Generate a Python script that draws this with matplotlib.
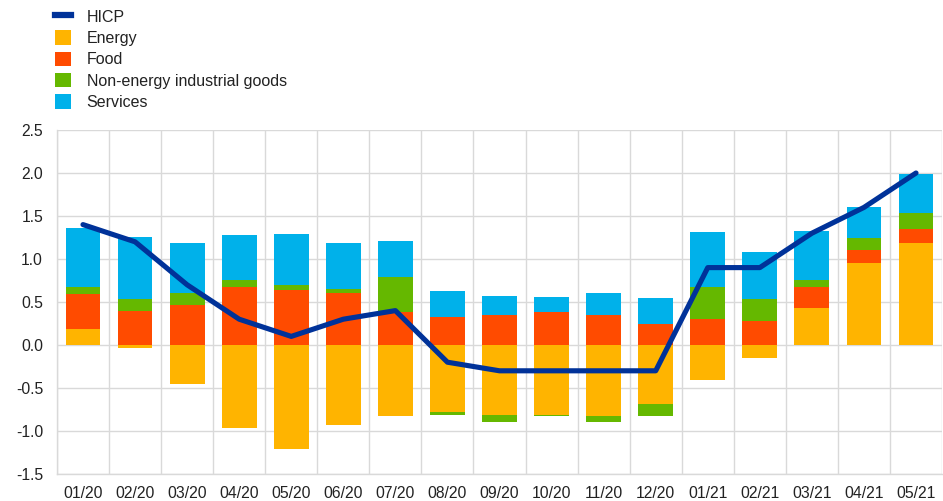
import numpy as np
import matplotlib
matplotlib.use("Agg")
import matplotlib.pyplot as plt
from matplotlib.patches import Patch
from matplotlib.lines import Line2D

plt.rcParams['font.family'] = ['Liberation Sans', 'DejaVu Sans']

months = ["01/20", "02/20", "03/20", "04/20", "05/20", "06/20", "07/20", "08/20", "09/20",
          "10/20", "11/20", "12/20", "01/21", "02/21", "03/21", "04/21", "05/21"]
hicp = [1.4, 1.2, 0.7, 0.3, 0.1, 0.3, 0.4, -0.2, -0.3, -0.3, -0.3, -0.3, 0.9, 0.9, 1.3, 1.6, 2.0]
energy = [0.19, -0.04, -0.45, -0.97, -1.21, -0.93, -0.83, -0.78, -0.81, -0.81, -0.83, -0.69,
          -0.41, -0.15, 0.43, 0.95, 1.19]
food = [0.40, 0.40, 0.46, 0.67, 0.64, 0.60, 0.38, 0.33, 0.345, 0.38, 0.35, 0.25,
        0.30, 0.28, 0.24, 0.16, 0.16]
neig = [0.08, 0.14, 0.14, 0.09, 0.06, 0.05, 0.41, -0.03, -0.08, -0.02, -0.06, -0.14,
        0.37, 0.25, 0.09, 0.13, 0.19]
services = [0.69, 0.72, 0.59, 0.52, 0.59, 0.54, 0.42, 0.30, 0.23, 0.18, 0.25, 0.30,
            0.64, 0.55, 0.57, 0.37, 0.45]

series = [("Energy", energy, "#FFB400"), ("Food", food, "#FF4B00"),
          ("Non-energy industrial goods", neig, "#65B800"), ("Services", services, "#00B1EA")]
hicp_color = "#003299"
grid_color = "#d9d9d9"

fig = plt.figure(figsize=(9.43, 5.01), dpi=100)
ax = fig.add_axes([0.0604, 0.0539, 0.9386, 0.6866])

x = np.arange(len(months))
pos_bottom = np.zeros(len(months))
neg_bottom = np.zeros(len(months))
for name, vals, col in series:
    v = np.array(vals, dtype=float)
    bottoms = np.where(v >= 0, pos_bottom, neg_bottom)
    ax.bar(x, v, 0.67, bottom=bottoms, color=col, zorder=2, linewidth=0)
    pos_bottom = pos_bottom + np.where(v >= 0, v, 0)
    neg_bottom = neg_bottom + np.where(v < 0, v, 0)

ax.plot(x, hicp, color=hicp_color, linewidth=3.7, zorder=3, solid_capstyle='round',
        solid_joinstyle='round')

ax.set_xlim(-0.5, len(months) - 0.5)
ax.set_ylim(-1.5, 2.5)
ax.set_yticks(np.arange(-1.5, 2.51, 0.5))
ax.set_yticklabels([f"{t:.1f}" for t in np.arange(-1.5, 2.51, 0.5)])
ax.set_xticks(x)
ax.set_xticklabels(months)
ax.set_xticks(np.arange(-0.5, len(months), 1.0), minor=True)
ax.grid(axis='y', which='major', color=grid_color, linewidth=1, zorder=0)
ax.grid(axis='x', which='minor', color=grid_color, linewidth=1, zorder=0)
ax.grid(axis='x', which='major', visible=False)
ax.set_axisbelow(True)
for s in ['top', 'right']:
    ax.spines[s].set_visible(False)
for s in ['left', 'bottom']:
    ax.spines[s].set_color(grid_color)
    ax.spines[s].set_linewidth(1)
ax.tick_params(axis='both', which='both', length=0, labelsize=11.3, colors='#222222')
ax.tick_params(axis='y', pad=10)
ax.tick_params(axis='x', pad=9)

handles = [Line2D([0], [0], color=hicp_color, linewidth=4.5)]
labels = ["HICP"]
for name, vals, col in series:
    handles.append(Patch(facecolor=col, edgecolor='none'))
    labels.append(name)
fig.legend(handles, labels, loc='upper left', bbox_to_anchor=(0.052, 0.995), frameon=False,
           fontsize=11.5, handlelength=1.0, handleheight=1.0, handletextpad=0.95,
           labelspacing=0.36, borderaxespad=0, labelcolor='#222222')

fig.savefig("out.png", dpi=100)
